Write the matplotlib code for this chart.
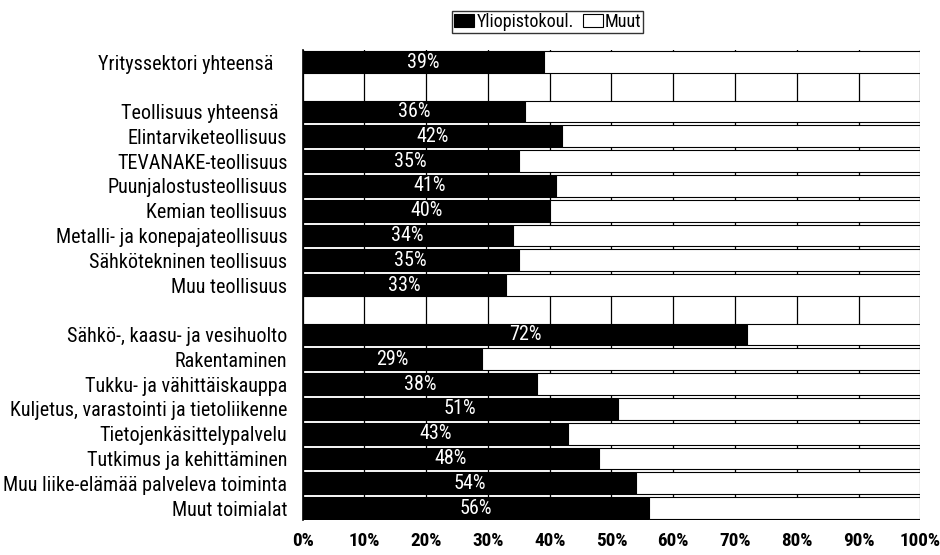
import matplotlib
matplotlib.use("Agg")
import matplotlib.pyplot as plt
from matplotlib import font_manager
import numpy as np

# pick a narrow font if one is installed
installed = {f.name for f in font_manager.fontManager.ttflist}
narrow = [n for n in ['Liberation Sans Narrow', 'DejaVu Sans Condensed', 'Roboto Condensed',
                      'Open Sans Condensed', 'Liberation Sans'] if n in installed]
plt.rcParams['font.family'] = narrow[:1] + ['DejaVu Sans']

# Rows from top to bottom; empty strings are spacer rows
categories = [
    'Yrityssektori yhteensä   ',
    '',
    'Teollisuus yhteensä  ',
    'Elintarviketeollisuus',
    'TEVANAKE-teollisuus',
    'Puunjalostusteollisuus',
    'Kemian teollisuus',
    'Metalli- ja konepajateollisuus',
    'Sähkötekninen teollisuus',
    'Muu teollisuus',
    '',
    'Sähkö-, kaasu- ja vesihuolto',
    'Rakentaminen',
    'Tukku- ja vähittäiskauppa',
    'Kuljetus, varastointi ja tietoliikenne',
    'Tietojenkäsittelypalvelu',
    'Tutkimus ja kehittäminen',
    'Muu liike-elämää palveleva toiminta',
    'Muut toimialat',
]
yliopisto = [39, None, 36, 42, 35, 41, 40, 34, 35, 33, None,
             72, 29, 38, 51, 43, 48, 54, 56]
series_names = ['Yliopistokoul.', 'Muut']
xticks = [0, 10, 20, 30, 40, 50, 60, 70, 80, 90, 100]

fig = plt.figure(figsize=(9.4, 5.55), dpi=100)
ax = fig.add_axes([0.322, 0.0623, 0.657, 0.8483])

# font size so the longest label is about as wide as in the original (~278 px)
r = fig.canvas.get_renderer()
t = fig.text(0, 0, 'Kuljetus, varastointi ja tietoliikenne', fontsize=12)
fs = 12 * 278 / t.get_window_extent(r).width
t.remove()

y = np.arange(len(categories))
bar_h = 0.88
for yi, v in zip(y, yliopisto):
    if v is None:
        continue
    ax.barh(yi, v, height=bar_h, color='black', edgecolor='black', linewidth=0.8, zorder=3,
            label=series_names[0] if yi == 0 else None)
    ax.barh(yi, 100 - v, left=v, height=bar_h, color='white', edgecolor='black',
            linewidth=0.8, zorder=3, label=series_names[1] if yi == 0 else None)
    ax.text(v / 2, yi, f'{v}%', color='white', ha='center', va='center',
            fontsize=fs, zorder=4)

ax.set_xlim(0, 100)
ax.set_ylim(len(categories) - 0.5, -0.5)
ax.set_yticks(y)
ax.set_yticklabels(categories, fontsize=fs)
ax.set_xticks(xticks)
ax.set_xticklabels([f'{t}%' for t in xticks], fontsize=fs * 0.95, fontweight='bold')
ax.tick_params(axis='both', length=0)
ax.tick_params(axis='y', pad=11)
ax.tick_params(axis='x', pad=8)

ax.xaxis.grid(True, color='black', linewidth=0.9, zorder=0)
ax.set_axisbelow(True)
for s in ['top', 'right', 'bottom']:
    ax.spines[s].set_visible(False)
ax.spines['left'].set_linewidth(1.2)
ax.spines['left'].set_zorder(5)

leg = ax.legend(loc='upper center', bbox_to_anchor=(0.397, 1.083), ncol=2,
                frameon=True, fancybox=False, edgecolor='black', fontsize=fs * 0.9,
                handlelength=1.1, handleheight=0.7, handletextpad=0.1, columnspacing=0.5,
                borderpad=0.12, borderaxespad=0)
leg.get_frame().set_linewidth(1.0)

fig.savefig('out.png', dpi=100)
